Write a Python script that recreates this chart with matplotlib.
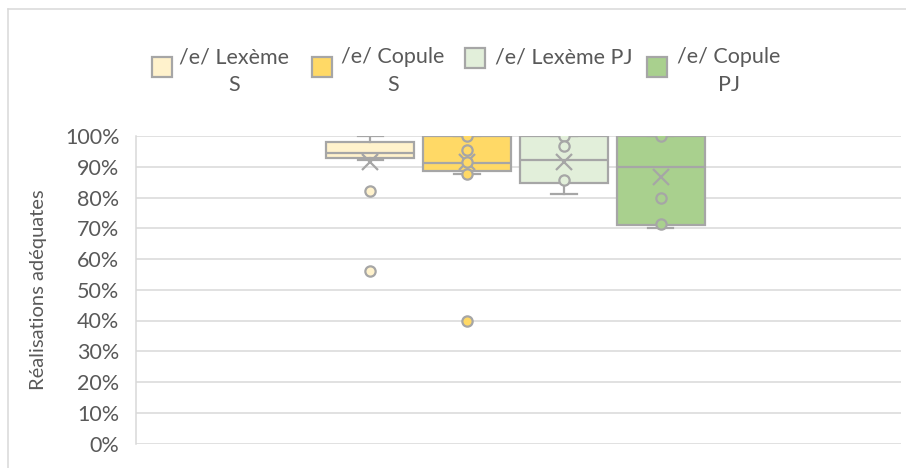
import matplotlib
matplotlib.use("Agg")
import matplotlib.pyplot as plt
from matplotlib.patches import Rectangle
from matplotlib.lines import Line2D
from matplotlib.ticker import FuncFormatter

plt.rcParams['font.family'] = ['Lato', 'DejaVu Sans']

# ---- data ----
series = ["/e/ Lexème\nS", "/e/ Copule\nS", "/e/ Lexème PJ", "/e/ Copule\nPJ"]
colors = ["#FFF2CC", "#FFD966", "#E2EFDA", "#A9D08E"]
whislo = [92.2, 87.8, 81.0, 70.0]
q1 = [92.8, 88.6, 84.6, 70.9]
med = [94.4, 91.2, 92.2, 90.0]
q3 = [98.1, 100.0, 100.0, 100.0]
whishi = [100.0, 100.0, 100.0, 100.0]
means = [91.7, 91.7, 91.7, 86.8]
points = [
    [82.0, 56.0],
    [100.0, 95.5, 91.7, 87.8, 40.0],
    [100.0, 96.8, 85.7],
    [100.0, 80.0, 71.4],
]
yticks = [0, 10, 20, 30, 40, 50, 60, 70, 80, 90, 100]
ylabel = "Réalisations adéquates"

W, H = 906, 468
fig = plt.figure(figsize=(W / 100, H / 100), dpi=100)
ax = fig.add_axes([136 / W, (H - 443.5) / H, 765 / W, 307.5 / H])

edge = "#A6A6A6"
positions = [1, 2, 3, 4]
stats = []
for i in range(4):
    stats.append(dict(med=med[i], q1=q1[i], q3=q3[i], whislo=whislo[i],
                      whishi=whishi[i], mean=means[i], fliers=[], label=""))

bp = ax.bxp(stats, positions=positions, widths=0.905, patch_artist=True,
            showmeans=True, showfliers=False, capwidths=0.26,
            boxprops=dict(edgecolor=edge, linewidth=1.6),
            medianprops=dict(color=edge, linewidth=1.6),
            whiskerprops=dict(color=edge, linewidth=1.6),
            capprops=dict(color=edge, linewidth=1.6),
            meanprops=dict(marker='x', markeredgecolor=edge, markersize=12,
                           markeredgewidth=1.6, linestyle='none'),
            zorder=3)
for patch, c in zip(bp['boxes'], colors):
    patch.set_facecolor(c)

for i in range(4):
    ax.scatter([positions[i]] * len(points[i]), points[i], s=55,
               facecolor=colors[i], edgecolor=edge, linewidth=1.6, zorder=5)

ax.set_xlim(1 - 234.5 / 97, 4 + 240.5 / 97)
ax.set_ylim(0, 100)
ax.set_yticks(yticks)
ax.yaxis.set_major_formatter(FuncFormatter(lambda v, p: f"{int(v)}%"))
ax.set_xticks([])
ax.tick_params(axis='y', length=0, pad=12, labelsize=15.5, labelcolor="#595959")
ax.grid(axis='y', color="#D9D9D9", linewidth=1.1, zorder=0)
ax.set_axisbelow(True)
for s in ['top', 'right', 'bottom']:
    ax.spines[s].set_visible(False)
ax.spines['left'].set_color("#D9D9D9")
ax.spines['left'].set_linewidth(1.1)

ax.set_ylabel(ylabel, fontsize=14.5, color="#595959", va='center')
ax.yaxis.set_label_coords((38 - 136) / 765, 0.5)

# chart border (left and top edges visible)
fig.add_artist(Line2D([7.5 / W, 7.5 / W], [0, 1 - 9 / H], color="#D9D9D9", linewidth=1.1))
fig.add_artist(Line2D([7.5 / W, 1], [1 - 9 / H, 1 - 9 / H], color="#D9D9D9", linewidth=1.1))

# legend
sq = [(152, 57), (312, 57), (465, 48), (647, 57)]
txt = [(234, 71, 'center'), (393, 71, 'center'), (495, 58, 'left'), (729, 71, 'center')]
for i in range(4):
    x0, y0 = sq[i]
    fig.add_artist(Rectangle((x0 / W, 1 - (y0 + 20) / H), 20 / W, 20 / H,
                             facecolor=colors[i], edgecolor=edge, linewidth=1.6,
                             transform=fig.transFigure))
    tx, ty, ha = txt[i]
    fig.text(tx / W, 1 - ty / H, series[i], ha=ha, va='center', multialignment='center',
             fontsize=15.5, color="#595959", linespacing=1.45)

fig.savefig("out.png", dpi=100)
